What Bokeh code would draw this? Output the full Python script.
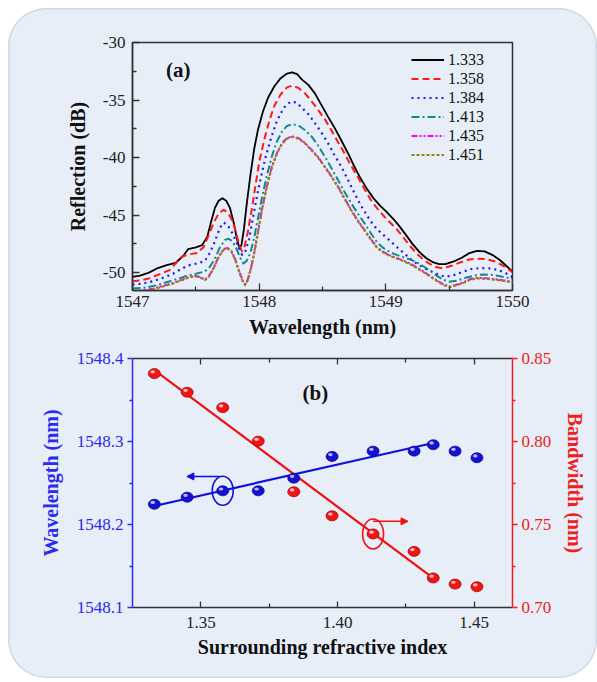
import numpy as np
from bokeh.plotting import figure
from bokeh.layouts import column
from bokeh.models import (Range1d, LinearAxis, FixedTicker, Legend, LegendItem,
                          Arrow, NormalHead, Label, ColumnDataSource)
from bokeh.transform import dodge
from bokeh.embed import file_html
from bokeh.resources import INLINE

FONT = "Liberation Serif"
BG = "#e7eef8"

# ---------------- panel (a): reflection spectra ----------------
series_labels = ["1.333", "1.358", "1.384", "1.413", "1.435", "1.451"]

wl_1333 = [1547.00, 1547.06, 1547.13, 1547.20, 1547.27, 1547.34, 1547.40, 1547.44, 1547.50, 1547.55,
           1547.59, 1547.62, 1547.65, 1547.68, 1547.71, 1547.74, 1547.77, 1547.80, 1547.825, 1547.845,
           1547.86, 1547.88, 1547.90, 1547.93, 1547.96, 1547.99, 1548.03, 1548.07, 1548.12, 1548.17,
           1548.22, 1548.26, 1548.30, 1548.336, 1548.39, 1548.44, 1548.49, 1548.543, 1548.60, 1548.646,
           1548.70, 1548.75, 1548.80, 1548.853, 1548.90, 1548.956, 1549.00, 1549.06, 1549.11, 1549.163,
           1549.21, 1549.266, 1549.32, 1549.37, 1549.42, 1549.47, 1549.53, 1549.60, 1549.66, 1549.72,
           1549.78, 1549.84, 1549.90, 1549.95, 1550.00]
r_1333 = [-50.37, -50.25, -50.0, -49.6, -49.35, -49.15, -48.55, -47.95, -47.8, -47.6,
          -46.9, -45.6, -44.4, -43.75, -43.53, -43.75, -44.4, -45.7, -47.1, -47.9,
          -47.6, -46.2, -44.2, -41.6, -39.3, -37.6, -36.0, -34.8, -33.8, -33.1,
          -32.7, -32.6, -32.75, -33.2, -33.7, -34.42, -35.4, -36.44, -37.5, -38.45,
          -39.6, -40.75, -41.8, -42.76, -43.5, -44.2, -44.65, -45.34, -46.0, -46.78,
          -47.5, -48.22, -48.75, -49.08, -49.25, -49.25, -49.05, -48.7, -48.3, -48.1,
          -48.15, -48.45, -48.9, -49.4, -49.9]

wl_1358 = [1547.00, 1547.07, 1547.13, 1547.21, 1547.29, 1547.34, 1547.39, 1547.45, 1547.51, 1547.56,
           1547.60, 1547.64, 1547.68, 1547.72, 1547.75, 1547.79, 1547.82, 1547.845, 1547.865, 1547.885,
           1547.91, 1547.94, 1547.97, 1548.00, 1548.04, 1548.08, 1548.12, 1548.17, 1548.22, 1548.26,
           1548.31, 1548.362, 1548.41, 1548.465, 1548.52, 1548.568, 1548.62, 1548.672, 1548.72, 1548.775,
           1548.83, 1548.878, 1548.93, 1548.982, 1549.03, 1549.085, 1549.14, 1549.188, 1549.24, 1549.29,
           1549.34, 1549.395, 1549.45, 1549.52, 1549.59, 1549.66, 1549.72, 1549.79, 1549.85, 1549.91,
           1549.96, 1550.00]
r_1358 = [-50.75, -50.65, -50.5, -50.15, -49.8, -49.2, -48.6, -48.4, -48.3, -47.8,
          -46.8, -45.7, -44.85, -44.55, -44.75, -45.5, -46.6, -47.7, -48.15, -47.7,
          -46.5, -44.6, -42.5, -40.4, -38.45, -36.8, -35.5, -34.5, -33.9, -33.75,
          -33.95, -34.42, -35.05, -35.86, -36.7, -37.59, -38.6, -39.6, -40.6, -41.61,
          -42.7, -43.62, -44.4, -45.06, -45.6, -46.21, -46.95, -47.64, -48.3, -48.79,
          -49.2, -49.51, -49.62, -49.4, -49.1, -48.85, -48.79, -48.82, -48.98, -49.3,
          -49.65, -49.95]

wl_1384 = [1547.00, 1547.08, 1547.16, 1547.24, 1547.32, 1547.38, 1547.44, 1547.51, 1547.57, 1547.61,
           1547.65, 1547.69, 1547.72, 1547.75, 1547.79, 1547.83, 1547.865, 1547.89, 1547.92, 1547.95,
           1547.98, 1548.01, 1548.05, 1548.09, 1548.13, 1548.17, 1548.21, 1548.25, 1548.29, 1548.336,
           1548.39, 1548.44, 1548.49, 1548.543, 1548.59, 1548.646, 1548.70, 1548.75, 1548.80, 1548.853,
           1548.90, 1548.956, 1549.01, 1549.06, 1549.11, 1549.163, 1549.21, 1549.266, 1549.32, 1549.37,
           1549.42, 1549.47, 1549.53, 1549.60, 1549.67, 1549.74, 1549.81, 1549.88, 1549.94, 1550.00]
r_1384 = [-51.03, -50.95, -50.75, -50.45, -50.1, -49.7, -49.37, -49.2, -49.0, -48.3,
          -47.3, -46.1, -45.65, -45.85, -46.6, -47.6, -48.45, -48.2, -47.1, -45.3,
          -43.5, -41.9, -40.0, -38.45, -37.1, -36.15, -35.45, -35.15, -35.2, -35.65,
          -36.25, -37.0, -37.8, -38.73, -39.7, -40.75, -41.9, -43.04, -44.1, -45.06,
          -45.85, -46.49, -47.0, -47.5, -48.0, -48.5, -48.95, -49.37, -49.7, -49.94,
          -50.2, -50.35, -50.25, -49.95, -49.7, -49.6, -49.62, -49.75, -50.0, -50.4]

wl_1413 = [1547.00, 1547.10, 1547.19, 1547.26, 1547.32, 1547.38, 1547.44, 1547.50, 1547.57, 1547.61,
           1547.65, 1547.69, 1547.73, 1547.76, 1547.79, 1547.82, 1547.85, 1547.875, 1547.90, 1547.93,
           1547.96, 1547.99, 1548.02, 1548.06, 1548.10, 1548.14, 1548.18, 1548.22, 1548.26, 1548.31,
           1548.36, 1548.413, 1548.465, 1548.517, 1548.57, 1548.62, 1548.67, 1548.723, 1548.775, 1548.827,
           1548.88, 1548.93, 1548.98, 1549.033, 1549.085, 1549.137, 1549.19, 1549.24, 1549.29, 1549.343,
           1549.40, 1549.45, 1549.50, 1549.56, 1549.63, 1549.70, 1549.77, 1549.84, 1549.92, 1550.00]
r_1413 = [-51.38, -51.3, -51.1, -50.85, -50.66, -50.45, -50.23, -50.1, -49.9, -49.5,
          -48.8, -47.8, -47.15, -47.05, -47.3, -47.9, -48.7, -49.2, -49.0, -48.3,
          -47.0, -45.3, -43.6, -41.6, -39.9, -38.6, -37.75, -37.25, -37.1, -37.2,
          -37.6, -38.16, -38.95, -39.89, -40.9, -41.9, -42.9, -43.9, -44.8, -45.63,
          -46.55, -47.36, -47.85, -48.22, -48.45, -48.65, -48.85, -49.08, -49.4, -49.8,
          -50.25, -50.6, -50.78, -50.7, -50.45, -50.25, -50.15, -50.2, -50.35, -50.55]

wl_1435 = [1547.00, 1547.08, 1547.16, 1547.24, 1547.32, 1547.39, 1547.45, 1547.50, 1547.54, 1547.57,
           1547.60, 1547.64, 1547.68, 1547.72, 1547.75, 1547.78, 1547.81, 1547.84, 1547.87, 1547.89,
           1547.91, 1547.935, 1547.96, 1547.99, 1548.02, 1548.06, 1548.10, 1548.14, 1548.18, 1548.22,
           1548.26, 1548.31, 1548.36, 1548.413, 1548.465, 1548.517, 1548.57, 1548.62, 1548.67, 1548.723,
           1548.775, 1548.827, 1548.88, 1548.93, 1548.98, 1549.033, 1549.085, 1549.137, 1549.19, 1549.24,
           1549.29, 1549.343, 1549.40, 1549.46, 1549.51, 1549.57, 1549.62, 1549.67, 1549.72, 1549.79,
           1549.85, 1549.92, 1550.00]
r_1435 = [-51.65, -51.55, -51.4, -51.15, -50.9, -50.6, -50.35, -50.28, -50.4, -50.6,
          -50.35, -49.6, -48.6, -47.95, -47.85, -48.1, -48.8, -49.8, -50.7, -51.0,
          -50.6, -49.6, -48.3, -46.5, -44.6, -42.5, -40.8, -39.6, -38.75, -38.3,
          -38.15, -38.3, -38.7, -39.31, -39.95, -40.75, -41.6, -42.47, -43.45, -44.48,
          -45.4, -46.21, -47.05, -47.79, -48.2, -48.5, -48.72, -48.94, -49.2, -49.51,
          -49.85, -50.23, -50.65, -51.05, -51.2, -51.0, -50.8, -50.55, -50.46, -50.48,
          -50.55, -50.65, -50.8]

wl_1451 = [1547.00, 1547.08, 1547.16, 1547.24, 1547.32, 1547.39, 1547.45, 1547.50, 1547.54, 1547.57,
           1547.60, 1547.64, 1547.68, 1547.72, 1547.75, 1547.78, 1547.81, 1547.84, 1547.87, 1547.89,
           1547.91, 1547.935, 1547.96, 1547.99, 1548.02, 1548.06, 1548.10, 1548.14, 1548.18, 1548.22,
           1548.26, 1548.31, 1548.36, 1548.413, 1548.465, 1548.517, 1548.57, 1548.62, 1548.67, 1548.723,
           1548.775, 1548.827, 1548.88, 1548.93, 1548.98, 1549.033, 1549.085, 1549.137, 1549.19, 1549.24,
           1549.29, 1549.343, 1549.40, 1549.46, 1549.51, 1549.57, 1549.62, 1549.67, 1549.72, 1549.79,
           1549.85, 1549.92, 1550.00]
r_1451 = [-51.7, -51.6, -51.45, -51.2, -50.95, -50.65, -50.4, -50.32, -50.45, -50.65,
          -50.4, -49.65, -48.65, -48.0, -47.9, -48.15, -48.85, -49.85, -50.75, -51.08,
          -50.65, -49.65, -48.35, -46.55, -44.65, -42.55, -40.85, -39.65, -38.8, -38.35,
          -38.2, -38.35, -38.75, -39.36, -40.0, -40.8, -41.65, -42.52, -43.5, -44.53,
          -45.45, -46.26, -47.1, -47.84, -48.25, -48.55, -48.77, -48.98, -49.25, -49.56,
          -49.9, -50.28, -50.7, -51.1, -51.25, -51.05, -50.85, -50.6, -50.5, -50.52,
          -50.6, -50.7, -50.85]

a_xticks = [1547, 1548, 1549, 1550]
a_yticks = [-50, -45, -40, -35, -30]
a_ytick_labels = ["-50", "-45", "-40", "-35", "-30"]

# ---------------- panel (b): peak wavelength and bandwidth ----------------
ri = [1.333, 1.345, 1.358, 1.371, 1.384, 1.398, 1.413, 1.428, 1.435, 1.443, 1.451]
peak_wl = [1548.2244, 1548.2329, 1548.2406, 1548.2406, 1548.2558, 1548.2820,
           1548.2884, 1548.2884, 1548.2961, 1548.2884, 1548.2804]
bandwidth = [0.8409, 0.8297, 0.8204, 0.8002, 0.7697, 0.7552, 0.7443, 0.7338,
             0.7178, 0.7141, 0.7125]
n_fit = 9  # points used for the linear fits (1.333 ... 1.435)

b_xticks = [1.35, 1.40, 1.45]
b_xtick_labels = ["1.35", "1.40", "1.45"]
b_wl_ticks = [1548.1, 1548.2, 1548.3, 1548.4]
b_wl_labels = ["1548.1", "1548.2", "1548.3", "1548.4"]
b_bw_ticks = [0.70, 0.75, 0.80, 0.85]
b_bw_labels = ["0.70", "0.75", "0.80", "0.85"]


def mids(t):
    return [(t[i] + t[i + 1]) / 2 for i in range(len(t) - 1)]


def style_axis(ax, color="#222222", size="17px"):
    ax.major_label_text_font = FONT
    ax.major_label_text_font_size = size
    ax.major_label_text_color = color
    ax.axis_label_text_font = FONT
    ax.axis_label_text_font_style = "bold"
    ax.axis_label_text_font_size = "20px"
    ax.axis_label_text_color = color if color != "#222222" else "#111111"
    ax.axis_line_color = color if color != "#222222" else "#333333"
    ax.axis_line_width = 1.5
    ax.major_tick_line_color = ax.axis_line_color
    ax.minor_tick_line_color = ax.axis_line_color
    ax.major_tick_line_width = 1.3
    ax.minor_tick_line_width = 1.3


# ---- figure (a)
pa = figure(width=589, height=332, x_range=Range1d(1547, 1550), y_range=Range1d(-51.55, -30),
            output_backend="svg", toolbar_location=None,
            min_border_left=118, min_border_right=84, min_border_top=34, min_border_bottom=48,
            background_fill_alpha=0, border_fill_alpha=0,
            outline_line_color="#333333", outline_line_width=1.5)
pa.grid.visible = False

styles = [("black", "solid", 1.8), ("#ff1a1a", "7 4", 2.0), ("#1a1aff", "2 4", 2.2),
          ("#108a8a", "8 3 2 3", 2.0), ("#ff00ff", "6 2 2 2 2 2", 2.0), ("#8a8a10", "3 2", 2.2)]
data_a = [(wl_1333, r_1333), (wl_1358, r_1358), (wl_1384, r_1384),
          (wl_1413, r_1413), (wl_1435, r_1435), (wl_1451, r_1451)]
items = []
for (xs, ys), (c, d, w), lab in zip(data_a, styles, series_labels):
    r = pa.line(xs, ys, line_color=c, line_dash=d, line_width=w, line_join="round")
    items.append(LegendItem(label=lab, renderers=[r]))

legend = Legend(items=items, location=(279, 126), padding=0, margin=0, spacing=0,
                label_height=19, glyph_height=19, glyph_width=33, label_standoff=4,
                label_text_font=FONT, label_text_font_size="16px", label_text_color="#111111",
                border_line_color=None, background_fill_alpha=0)
pa.add_layout(legend)

style_axis(pa.xaxis[0])
style_axis(pa.yaxis[0])
pa.xaxis.ticker = FixedTicker(ticks=a_xticks, minor_ticks=mids(a_xticks))
pa.yaxis.ticker = FixedTicker(ticks=a_yticks, minor_ticks=mids(a_yticks))
pa.yaxis.major_label_overrides = {t: s for t, s in zip(a_yticks, a_ytick_labels)}
for ax in (pa.xaxis[0], pa.yaxis[0]):
    ax.major_tick_in = 7
    ax.major_tick_out = 0
    ax.minor_tick_in = 4
    ax.minor_tick_out = 0
pa.xaxis.axis_label = "Wavelength (nm)"
pa.yaxis.axis_label = "Reflection (dB)"
pa.xaxis.major_label_standoff = 5
pa.xaxis.axis_label_standoff = 6
pa.yaxis.major_label_standoff = 7
pa.yaxis.axis_label_standoff = 11
pa.add_layout(Label(x=1547.264, y=-32.4, text="(a)", text_font=FONT, text_font_style="bold",
                    text_font_size="21px", text_baseline="middle", text_color="#111111"))

# ---- figure (b)
BLUE = "#2a2af0"
RED = "#f02020"
pb = figure(width=589, height=338, x_range=Range1d(1.325, 1.464), y_range=Range1d(1548.1, 1548.4),
            output_backend="svg", toolbar_location=None,
            min_border_left=124, min_border_right=85, min_border_top=18, min_border_bottom=71,
            background_fill_alpha=0, border_fill_alpha=0, outline_line_color=None)
pb.grid.visible = False
pb.extra_y_ranges = {"bw": Range1d(0.70, 0.85)}

src = ColumnDataSource(dict(ri=ri, wl=peak_wl, bw=bandwidth))

# linear fits over the first n_fit points
cw = np.polyfit(ri[:n_fit], peak_wl[:n_fit], 1)
cb = np.polyfit(ri[:n_fit], bandwidth[:n_fit], 1)
fx = [ri[0], ri[n_fit - 1]]
pb.line(fx, list(np.polyval(cw, fx)), line_color="#1010e0", line_width=2.2)
pb.line(fx, list(np.polyval(cb, fx)), line_color="#f01010", line_width=2.2, y_range_name="bw")

# sphere-like markers
pb.ellipse(x="ri", y="wl", width=12, height=10, width_units="screen", height_units="screen",
           fill_color="#1212d0", line_color="#0a0a9a", line_width=0.8, source=src)
pb.ellipse(x=dodge("ri", -0.0006), y=dodge("wl", 0.0022), width=4.5, height=3.2,
           width_units="screen", height_units="screen", fill_color="#b8b8ff",
           line_color=None, source=src)
pb.ellipse(x="ri", y="bw", width=12, height=10, width_units="screen", height_units="screen",
           fill_color="#f41414", line_color="#a00a0a", line_width=0.8, source=src,
           y_range_name="bw")
pb.ellipse(x=dodge("ri", -0.0006), y=dodge("bw", 0.0011), width=4.5, height=3.2,
           width_units="screen", height_units="screen", fill_color="#ffc0c0",
           line_color=None, source=src, y_range_name="bw")

# callouts: ellipses and arrows
pb.ellipse(x=ri[2], y=peak_wl[2], width=21, height=29, width_units="screen", height_units="screen",
           fill_alpha=0, line_color="#1010e0", line_width=1.6)
pb.add_layout(Arrow(x_start=ri[2] - 0.0012, y_start=peak_wl[2] + 0.0173,
                    x_end=ri[1] - 0.0001, y_end=peak_wl[2] + 0.0173,
                    line_color="#1010e0", line_width=1.5,
                    end=NormalHead(size=7, fill_color="#1010e0", line_color="#1010e0")))
pb.ellipse(x=ri[6], y=bandwidth[6], width=21, height=30, width_units="screen", height_units="screen",
           fill_alpha=0, line_color="#f01010", line_width=1.6, y_range_name="bw")
pb.add_layout(Arrow(x_start=ri[6], y_start=bandwidth[6] + 0.0076,
                    x_end=ri[6] + 0.0128, y_end=bandwidth[6] + 0.0076,
                    line_color="#f01010", line_width=1.5, y_range_name="bw",
                    end=NormalHead(size=7, fill_color="#f01010", line_color="#f01010")))

pb.add_layout(Label(x=1.3872, y=1548.359, text="(b)", text_font=FONT, text_font_style="bold",
                    text_font_size="21px", text_baseline="middle", text_color="#111111"))

# axes
xb = pb.xaxis[0]
style_axis(xb)
xb.ticker = FixedTicker(ticks=b_xticks, minor_ticks=mids(b_xticks))
xb.major_label_overrides = {t: s for t, s in zip(b_xticks, b_xtick_labels)}
xb.major_tick_in, xb.major_tick_out, xb.minor_tick_in, xb.minor_tick_out = 6, 0, 4, 0
xb.axis_label = "Surrounding refractive index"
xb.major_label_standoff = 9
xb.axis_label_standoff = 5

top = LinearAxis(ticker=FixedTicker(ticks=b_xticks, minor_ticks=mids(b_xticks)))
style_axis(top)
top.major_label_overrides = {t: "" for t in b_xticks}
top.major_tick_in, top.major_tick_out, top.minor_tick_in, top.minor_tick_out = 6, 0, 4, 0
pb.add_layout(top, "above")

yl = pb.yaxis[0]
style_axis(yl, color=BLUE)
yl.ticker = FixedTicker(ticks=b_wl_ticks, minor_ticks=mids(b_wl_ticks))
yl.major_label_overrides = {t: s for t, s in zip(b_wl_ticks, b_wl_labels)}
yl.major_tick_in, yl.major_tick_out, yl.minor_tick_in, yl.minor_tick_out = 0, 5, 0, 3
yl.axis_label = "Wavelength (nm)"
yl.major_label_standoff = 4
yl.axis_label_standoff = 12

yr = LinearAxis(y_range_name="bw", ticker=FixedTicker(ticks=b_bw_ticks, minor_ticks=mids(b_bw_ticks)))
style_axis(yr, color=RED)
yr.major_label_overrides = {t: s for t, s in zip(b_bw_ticks, b_bw_labels)}
yr.major_tick_in, yr.major_tick_out, yr.minor_tick_in, yr.minor_tick_out = 0, 5, 0, 3
yr.axis_label = "Bandwidth (nm)"
yr.major_label_standoff = 4
yr.axis_label_standoff = 10
pb.add_layout(yr, "right")

layout = column(pa, pb, spacing=0, margin=(8, 0, 0, 8),
                styles={"background-color": BG, "border-radius": "38px",
                        "box-shadow": "inset 0 0 0 1.5px #cdd9e8"})

open("out.html", "w").write(file_html(layout, INLINE))
